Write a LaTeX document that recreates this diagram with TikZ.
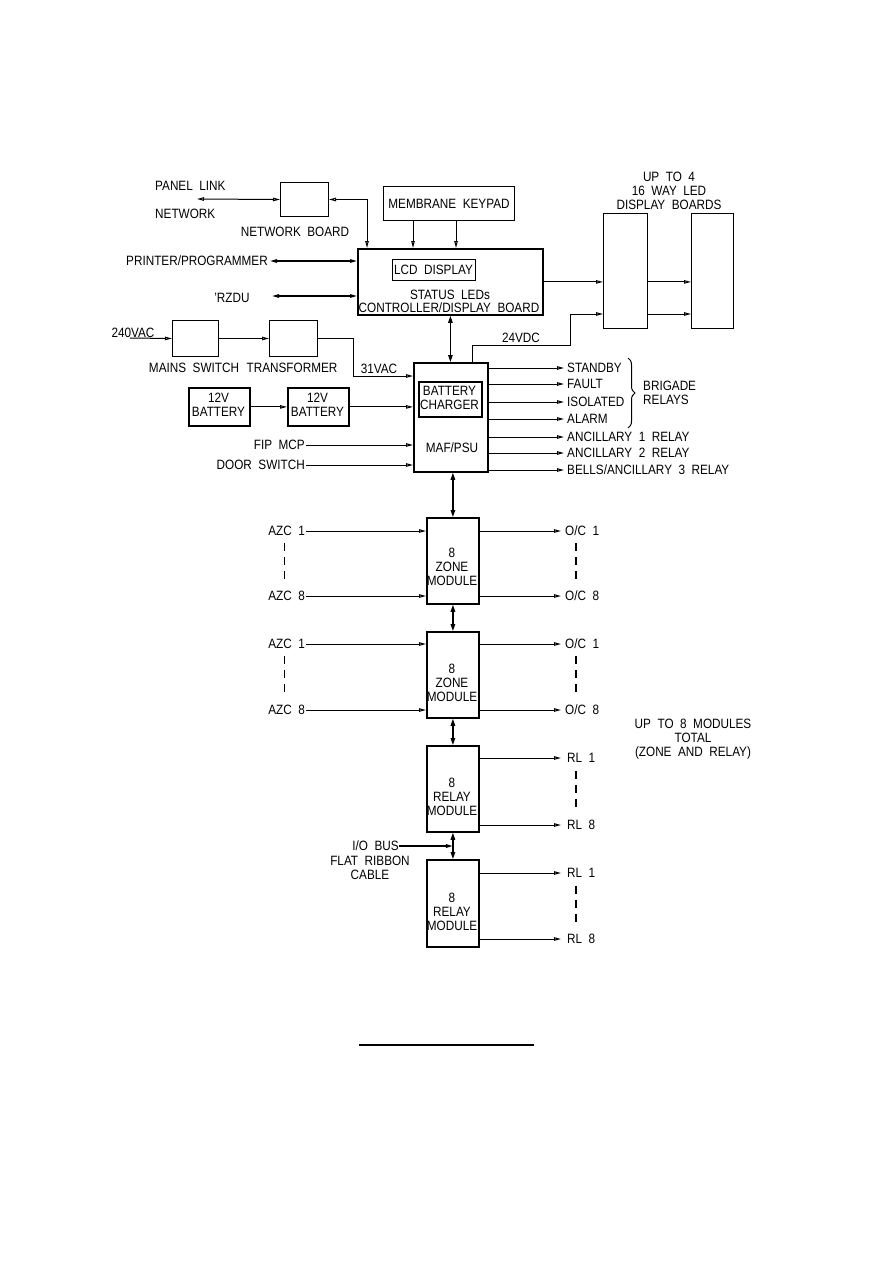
\documentclass[tikz,border=0pt]{standalone}
\usepackage{fontspec}
\setmainfont{Liberation Sans}[FakeStretch=0.87]
\usetikzlibrary{arrows.meta,decorations.pathreplacing,calc}
\newcommand{\lblfont}{\fontsize{13.5}{14}\selectfont}
\begin{document}
\begin{tikzpicture}[x=1pt,y=-1pt,
  lab/.style={font=\lblfont, inner sep=0pt, align=center},
  box/.style={draw, line width=1pt, anchor=north west, inner sep=0pt},
  tbox/.style={draw, line width=1.8pt, anchor=north west, inner sep=0pt},
  arr/.style={-{Triangle[open,length=7pt,width=3.5pt]}, line width=1pt},
  darr/.style={{Triangle[open,length=7pt,width=3.5pt]}-{Triangle[open,length=7pt,width=3.5pt]}, line width=1pt},
  bus/.style={{Triangle[length=7pt,width=4.5pt]}-{Triangle[length=7pt,width=4.5pt]}, line width=1.2pt},
  dsh/.style={line width=1pt, dash pattern=on 8pt off 6pt},
  dshb/.style={line width=1.7pt, dash pattern=on 8pt off 6pt}]
\useasboundingbox[fill=white] (0,0) rectangle (893,1263);

% boxes
\node[box, minimum width=48pt, minimum height=34pt] (nb) at (280,182) {};
\node[box, line width=1.3pt, minimum width=131pt, minimum height=34pt] (kp) at (383,186) {};
\node[lab] (kpt) at (449,204) {MEMBRANE~~KEYPAD};
\node[tbox, minimum width=185pt, minimum height=66pt] (cb) at (357,248) {};
\node[box, line width=1.2pt, minimum width=83pt, minimum height=21pt] (lcd) at (392,259) {};
\node[lab] (lcdt) at (433.5,270) {LCD~~DISPLAY};
\node[lab] (cbt1) at (450,295) {STATUS~~LEDs};
\node[lab] (cbt2) at (449,308) {CONTROLLER/DISPLAY~~BOARD};
\node[box, minimum width=44pt, minimum height=115pt] (db1) at (603,213) {};
\node[box, minimum width=42pt, minimum height=115pt] (db2) at (691,213) {};
\node[lab] (upto4) at (669,191) {UP~~TO~~4\\16~~WAY~~LED\\DISPLAY~~BOARDS};
\node[box, minimum width=46pt, minimum height=36pt] (ms) at (172,320) {};
\node[box, minimum width=48pt, minimum height=36pt] (tr) at (269,320) {};
\node[lab] (mst) at (194,368) {MAINS~~SWITCH};
\node[lab] (trt) at (292,368) {TRANSFORMER};
\node[tbox, minimum width=74pt, minimum height=109pt] (maf) at (413,362) {};
\node[tbox, minimum width=63pt, minimum height=35pt] (bc) at (418,381) {};
\node[lab] (bct) at (449.5,398) {BATTERY\\CHARGER};
\node[lab] (maft) at (452,448) {MAF/PSU};
\node[tbox, minimum width=61pt, minimum height=38pt] (b1) at (188,387) {};
\node[lab] (b1t) at (218.5,405) {12V\\BATTERY};
\node[tbox, minimum width=61pt, minimum height=38pt] (b2) at (287,387) {};
\node[lab] (b2t) at (317.5,405) {12V\\BATTERY};
\node[tbox, minimum width=52pt, minimum height=86pt] (zm1) at (426,517) {};
\node[lab] (zm1t) at (452,567) {8\\ZONE\\MODULE};
\node[tbox, minimum width=52pt, minimum height=86pt] (zm2) at (426,631) {};
\node[lab] (zm2t) at (452,683) {8\\ZONE\\MODULE};
\node[tbox, minimum width=52pt, minimum height=86pt] (rm1) at (426,745) {};
\node[lab] (rm1t) at (452,797) {8\\RELAY\\MODULE};
\node[tbox, minimum width=52pt, minimum height=87pt] (rm2) at (426,859) {};
\node[lab] (rm2t) at (452,912) {8\\RELAY\\MODULE};

% top left
\node[lab, anchor=west] (pl) at (155,186) {PANEL~~LINK};
\node[lab, anchor=west] (nw) at (155,214) {NETWORK};
\node[lab] (nbt) at (295,232) {NETWORK~~BOARD};
\coordinate (plend) at (197,199);
\draw[darr] (plend) -- (nb.west);
\draw[darr] (nb.east) -| ([xshift=10pt]cb.north west);
\draw[arr] ([xshift=30pt]kp.south west) -- ([xshift=56pt]cb.north west);
\draw[arr] ([xshift=73pt]kp.south west) -- ([xshift=99pt]cb.north west);
\node[lab, anchor=east] (pp) at (268,261) {PRINTER/PROGRAMMER};
\draw[darr, line width=1.3pt] ([xshift=2pt]pp.east) -- (cb.west |- pp.east);
\node[lab] (rz) at (232,298) {'RZDU};
\coordinate (rzs) at (272,296);
\draw[darr, line width=1.3pt] (rzs) -- (cb.west |- rzs);

% display boards
\draw[arr] (cb.east) -- (db1.west |- cb.east);
\draw[arr] (db1.east |- cb.east) -- (db2.west |- cb.east);
\coordinate (d24) at (603,314);
\draw[arr] (db1.east |- d24) -- (db2.west |- d24);
\draw[arr] ([xshift=59pt]maf.north west) -- ++(0,-17) -| ([xshift=-33pt]d24) -- (d24);
\node[lab] (v24) at (521,338) {24VDC};
\draw[bus] (cb.south) -- (cb.south |- maf.north);

% power
\node[lab] (v240) at (133,333) {240VAC};
\coordinate (v240s) at (130,338);
\draw[arr] (v240s) -- (ms.west);
\draw[arr] (ms.east) -- (tr.west);
\draw[arr] (tr.east) -- ++(35,0) |- ([yshift=-14pt]maf.north west);
\node[lab] (v31) at (379,369) {31VAC};
\draw[arr] (b1.east) -- (b2.west);
\draw[arr] (b2.east) -- (maf.west |- b2.east);
\node[lab, anchor=east] (fip) at (305,445) {FIP~~MCP};
\draw[arr] ([xshift=1pt]fip.east) -- (maf.west |- fip.east);
\node[lab, anchor=east] (ds) at (305,465) {DOOR~~SWITCH};
\draw[arr] ([xshift=1pt]ds.east) -- (maf.west |- ds.east);

% outputs of MAF
\foreach \n/\yy/\t in {o1/368/{STANDBY}, o2/384/{FAULT}, o3/402/{ISOLATED}, o4/419/{ALARM}, o5/437/{ANCILLARY~~1~~RELAY}, o6/453/{ANCILLARY~~2~~RELAY}, o7/470/{BELLS/ANCILLARY~~3~~RELAY}}{
  \node[lab, anchor=west] (\n) at (567,\yy) {\t};
  \draw[arr] (maf.east |- \n.west) -- ([xshift=-3pt]\n.west);
}
\draw[line width=1pt, decorate, decoration={brace, amplitude=7pt}] (628,358) -- (628,428);
\node[lab, anchor=west, align=left] (brig) at (643,393) {BRIGADE\\RELAYS};

% modules
\draw[bus] (zm1.north |- maf.south) -- (zm1.north);
\draw[bus] (zm1.south) -- (zm2.north);
\draw[bus] (zm2.south) -- (rm1.north);
\draw[bus] (rm1.south) -- (rm2.north);

\foreach \m/\ya/\yb in {zm1/531/596, zm2/644/710}{
  \node[lab, anchor=east] (\m a1) at (305,\ya) {AZC~~1};
  \node[lab, anchor=east] (\m a8) at (305,\yb) {AZC~~8};
  \draw[arr] ([xshift=1pt]\m a1.east) -- (\m.west |- \m a1.east);
  \draw[arr] ([xshift=1pt]\m a8.east) -- (\m.west |- \m a8.east);
  \node[lab, anchor=west] (\m o1) at (565,\ya) {O/C~~1};
  \node[lab, anchor=west] (\m o8) at (565,\yb) {O/C~~8};
  \draw[arr] (\m.east |- \m o1.west) -- ([xshift=-4pt]\m o1.west);
  \draw[arr] (\m.east |- \m o8.west) -- ([xshift=-4pt]\m o8.west);
  \draw[dsh] ([yshift=-7pt]\m a1.south -| 284,0) -- ([yshift=9pt]\m a8.north -| 284,0);
  \draw[dshb] ([yshift=-7pt]\m o1.south -| 576,0) -- ([yshift=9pt]\m o8.north -| 576,0);
}
\foreach \m/\ya/\yb in {rm1/758/825, rm2/873/939}{
  \node[lab, anchor=west] (\m r1) at (567,\ya) {RL~~1};
  \node[lab, anchor=west] (\m r8) at (567,\yb) {RL~~8};
  \draw[arr] (\m.east |- \m r1.west) -- ([xshift=-6pt]\m r1.west);
  \draw[arr] (\m.east |- \m r8.west) -- ([xshift=-6pt]\m r8.west);
  \draw[dshb] ([yshift=-8pt]\m r1.south -| 576,0) -- ([yshift=9pt]\m r8.north -| 576,0);
}
\node[lab] (up8) at (693,739) {UP~~TO~~8~~MODULES\\TOTAL\\(ZONE~~AND~~RELAY)};
\node[lab, anchor=east] (iob) at (399,846) {I/O~~BUS};
\node[lab] (frc) at (370,867.5) {FLAT~~RIBBON\\CABLE};
\draw[arr, line width=1.5pt] (iob.east) -- (rm1.south |- iob.east);

% underline
\draw[line width=2.2pt] (359,1045) -- (534,1045);
\end{tikzpicture}
\end{document}
